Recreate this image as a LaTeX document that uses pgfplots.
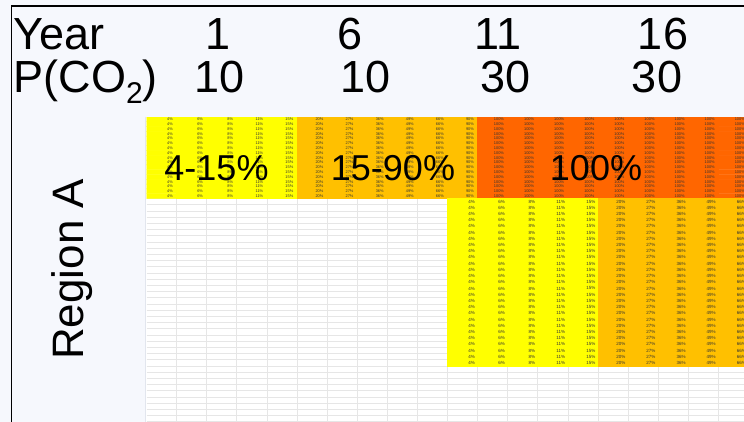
\documentclass[border=0pt]{standalone}
\usepackage{pgfplots}
\pgfplotsset{compat=1.18}
\usepackage{pgfplotstable}
\usepackage{fontspec}
\setmainfont{Liberation Sans}
\definecolor{slidebg}{RGB}{246,248,253}
\definecolor{gridc}{RGB}{230,230,230}
\definecolor{sheetedge}{RGB}{226,230,238}

% Top block: 17 spreadsheet rows x 20 columns (x = column, y = row, v = percentage)
\pgfplotstableread[row sep=\\]{
x y v\\
0 0 4\\ 1 0 6\\ 2 0 8\\ 3 0 11\\ 4 0 15\\ 5 0 20\\ 6 0 27\\ 7 0 36\\ 8 0 49\\ 9 0 66\\ 10 0 90\\ 11 0 100\\ 12 0 100\\ 13 0 100\\ 14 0 100\\ 15 0 100\\ 16 0 100\\ 17 0 100\\ 18 0 100\\ 19 0 100\\
0 1 4\\ 1 1 6\\ 2 1 8\\ 3 1 11\\ 4 1 15\\ 5 1 20\\ 6 1 27\\ 7 1 36\\ 8 1 49\\ 9 1 66\\ 10 1 90\\ 11 1 100\\ 12 1 100\\ 13 1 100\\ 14 1 100\\ 15 1 100\\ 16 1 100\\ 17 1 100\\ 18 1 100\\ 19 1 100\\
0 2 4\\ 1 2 6\\ 2 2 8\\ 3 2 11\\ 4 2 15\\ 5 2 20\\ 6 2 27\\ 7 2 36\\ 8 2 49\\ 9 2 66\\ 10 2 90\\ 11 2 100\\ 12 2 100\\ 13 2 100\\ 14 2 100\\ 15 2 100\\ 16 2 100\\ 17 2 100\\ 18 2 100\\ 19 2 100\\
0 3 4\\ 1 3 6\\ 2 3 8\\ 3 3 11\\ 4 3 15\\ 5 3 20\\ 6 3 27\\ 7 3 36\\ 8 3 49\\ 9 3 66\\ 10 3 90\\ 11 3 100\\ 12 3 100\\ 13 3 100\\ 14 3 100\\ 15 3 100\\ 16 3 100\\ 17 3 100\\ 18 3 100\\ 19 3 100\\
0 4 4\\ 1 4 6\\ 2 4 8\\ 3 4 11\\ 4 4 15\\ 5 4 20\\ 6 4 27\\ 7 4 36\\ 8 4 49\\ 9 4 66\\ 10 4 90\\ 11 4 100\\ 12 4 100\\ 13 4 100\\ 14 4 100\\ 15 4 100\\ 16 4 100\\ 17 4 100\\ 18 4 100\\ 19 4 100\\
0 5 4\\ 1 5 6\\ 2 5 8\\ 3 5 11\\ 4 5 15\\ 5 5 20\\ 6 5 27\\ 7 5 36\\ 8 5 49\\ 9 5 66\\ 10 5 90\\ 11 5 100\\ 12 5 100\\ 13 5 100\\ 14 5 100\\ 15 5 100\\ 16 5 100\\ 17 5 100\\ 18 5 100\\ 19 5 100\\
0 6 4\\ 1 6 6\\ 2 6 8\\ 3 6 11\\ 4 6 15\\ 5 6 20\\ 6 6 27\\ 7 6 36\\ 8 6 49\\ 9 6 66\\ 10 6 90\\ 11 6 100\\ 12 6 100\\ 13 6 100\\ 14 6 100\\ 15 6 100\\ 16 6 100\\ 17 6 100\\ 18 6 100\\ 19 6 100\\
0 7 4\\ 1 7 6\\ 2 7 8\\ 3 7 11\\ 4 7 15\\ 5 7 20\\ 6 7 27\\ 7 7 36\\ 8 7 49\\ 9 7 66\\ 10 7 90\\ 11 7 100\\ 12 7 100\\ 13 7 100\\ 14 7 100\\ 15 7 100\\ 16 7 100\\ 17 7 100\\ 18 7 100\\ 19 7 100\\
0 8 4\\ 1 8 6\\ 2 8 8\\ 3 8 11\\ 4 8 15\\ 5 8 20\\ 6 8 27\\ 7 8 36\\ 8 8 49\\ 9 8 66\\ 10 8 90\\ 11 8 100\\ 12 8 100\\ 13 8 100\\ 14 8 100\\ 15 8 100\\ 16 8 100\\ 17 8 100\\ 18 8 100\\ 19 8 100\\
0 9 4\\ 1 9 6\\ 2 9 8\\ 3 9 11\\ 4 9 15\\ 5 9 20\\ 6 9 27\\ 7 9 36\\ 8 9 49\\ 9 9 66\\ 10 9 90\\ 11 9 100\\ 12 9 100\\ 13 9 100\\ 14 9 100\\ 15 9 100\\ 16 9 100\\ 17 9 100\\ 18 9 100\\ 19 9 100\\
0 10 4\\ 1 10 6\\ 2 10 8\\ 3 10 11\\ 4 10 15\\ 5 10 20\\ 6 10 27\\ 7 10 36\\ 8 10 49\\ 9 10 66\\ 10 10 90\\ 11 10 100\\ 12 10 100\\ 13 10 100\\ 14 10 100\\ 15 10 100\\ 16 10 100\\ 17 10 100\\ 18 10 100\\ 19 10 100\\
0 11 4\\ 1 11 6\\ 2 11 8\\ 3 11 11\\ 4 11 15\\ 5 11 20\\ 6 11 27\\ 7 11 36\\ 8 11 49\\ 9 11 66\\ 10 11 90\\ 11 11 100\\ 12 11 100\\ 13 11 100\\ 14 11 100\\ 15 11 100\\ 16 11 100\\ 17 11 100\\ 18 11 100\\ 19 11 100\\
0 12 4\\ 1 12 6\\ 2 12 8\\ 3 12 11\\ 4 12 15\\ 5 12 20\\ 6 12 27\\ 7 12 36\\ 8 12 49\\ 9 12 66\\ 10 12 90\\ 11 12 100\\ 12 12 100\\ 13 12 100\\ 14 12 100\\ 15 12 100\\ 16 12 100\\ 17 12 100\\ 18 12 100\\ 19 12 100\\
0 13 4\\ 1 13 6\\ 2 13 8\\ 3 13 11\\ 4 13 15\\ 5 13 20\\ 6 13 27\\ 7 13 36\\ 8 13 49\\ 9 13 66\\ 10 13 90\\ 11 13 100\\ 12 13 100\\ 13 13 100\\ 14 13 100\\ 15 13 100\\ 16 13 100\\ 17 13 100\\ 18 13 100\\ 19 13 100\\
0 14 4\\ 1 14 6\\ 2 14 8\\ 3 14 11\\ 4 14 15\\ 5 14 20\\ 6 14 27\\ 7 14 36\\ 8 14 49\\ 9 14 66\\ 10 14 90\\ 11 14 100\\ 12 14 100\\ 13 14 100\\ 14 14 100\\ 15 14 100\\ 16 14 100\\ 17 14 100\\ 18 14 100\\ 19 14 100\\
0 15 4\\ 1 15 6\\ 2 15 8\\ 3 15 11\\ 4 15 15\\ 5 15 20\\ 6 15 27\\ 7 15 36\\ 8 15 49\\ 9 15 66\\ 10 15 90\\ 11 15 100\\ 12 15 100\\ 13 15 100\\ 14 15 100\\ 15 15 100\\ 16 15 100\\ 17 15 100\\ 18 15 100\\ 19 15 100\\
0 16 4\\ 1 16 6\\ 2 16 8\\ 3 16 11\\ 4 16 15\\ 5 16 20\\ 6 16 27\\ 7 16 36\\ 8 16 49\\ 9 16 66\\ 10 16 90\\ 11 16 100\\ 12 16 100\\ 13 16 100\\ 14 16 100\\ 15 16 100\\ 16 16 100\\ 17 16 100\\ 18 16 100\\ 19 16 100\\
}\topblock

% Lower block: 27 spreadsheet rows x 10 columns (columns 10..19)
\pgfplotstableread[row sep=\\]{
x y v\\
10 0 4\\ 11 0 6\\ 12 0 8\\ 13 0 11\\ 14 0 15\\ 15 0 20\\ 16 0 27\\ 17 0 36\\ 18 0 49\\ 19 0 66\\
10 1 4\\ 11 1 6\\ 12 1 8\\ 13 1 11\\ 14 1 15\\ 15 1 20\\ 16 1 27\\ 17 1 36\\ 18 1 49\\ 19 1 66\\
10 2 4\\ 11 2 6\\ 12 2 8\\ 13 2 11\\ 14 2 15\\ 15 2 20\\ 16 2 27\\ 17 2 36\\ 18 2 49\\ 19 2 66\\
10 3 4\\ 11 3 6\\ 12 3 8\\ 13 3 11\\ 14 3 15\\ 15 3 20\\ 16 3 27\\ 17 3 36\\ 18 3 49\\ 19 3 66\\
10 4 4\\ 11 4 6\\ 12 4 8\\ 13 4 11\\ 14 4 15\\ 15 4 20\\ 16 4 27\\ 17 4 36\\ 18 4 49\\ 19 4 66\\
10 5 4\\ 11 5 6\\ 12 5 8\\ 13 5 11\\ 14 5 15\\ 15 5 20\\ 16 5 27\\ 17 5 36\\ 18 5 49\\ 19 5 66\\
10 6 4\\ 11 6 6\\ 12 6 8\\ 13 6 11\\ 14 6 15\\ 15 6 20\\ 16 6 27\\ 17 6 36\\ 18 6 49\\ 19 6 66\\
10 7 4\\ 11 7 6\\ 12 7 8\\ 13 7 11\\ 14 7 15\\ 15 7 20\\ 16 7 27\\ 17 7 36\\ 18 7 49\\ 19 7 66\\
10 8 4\\ 11 8 6\\ 12 8 8\\ 13 8 11\\ 14 8 15\\ 15 8 20\\ 16 8 27\\ 17 8 36\\ 18 8 49\\ 19 8 66\\
10 9 4\\ 11 9 6\\ 12 9 8\\ 13 9 11\\ 14 9 15\\ 15 9 20\\ 16 9 27\\ 17 9 36\\ 18 9 49\\ 19 9 66\\
10 10 4\\ 11 10 6\\ 12 10 8\\ 13 10 11\\ 14 10 15\\ 15 10 20\\ 16 10 27\\ 17 10 36\\ 18 10 49\\ 19 10 66\\
10 11 4\\ 11 11 6\\ 12 11 8\\ 13 11 11\\ 14 11 15\\ 15 11 20\\ 16 11 27\\ 17 11 36\\ 18 11 49\\ 19 11 66\\
10 12 4\\ 11 12 6\\ 12 12 8\\ 13 12 11\\ 14 12 15\\ 15 12 20\\ 16 12 27\\ 17 12 36\\ 18 12 49\\ 19 12 66\\
10 13 4\\ 11 13 6\\ 12 13 8\\ 13 13 11\\ 14 13 15\\ 15 13 20\\ 16 13 27\\ 17 13 36\\ 18 13 49\\ 19 13 66\\
10 14 4\\ 11 14 6\\ 12 14 8\\ 13 14 11\\ 14 14 15\\ 15 14 20\\ 16 14 27\\ 17 14 36\\ 18 14 49\\ 19 14 66\\
10 15 4\\ 11 15 6\\ 12 15 8\\ 13 15 11\\ 14 15 15\\ 15 15 20\\ 16 15 27\\ 17 15 36\\ 18 15 49\\ 19 15 66\\
10 16 4\\ 11 16 6\\ 12 16 8\\ 13 16 11\\ 14 16 15\\ 15 16 20\\ 16 16 27\\ 17 16 36\\ 18 16 49\\ 19 16 66\\
10 17 4\\ 11 17 6\\ 12 17 8\\ 13 17 11\\ 14 17 15\\ 15 17 20\\ 16 17 27\\ 17 17 36\\ 18 17 49\\ 19 17 66\\
10 18 4\\ 11 18 6\\ 12 18 8\\ 13 18 11\\ 14 18 15\\ 15 18 20\\ 16 18 27\\ 17 18 36\\ 18 18 49\\ 19 18 66\\
10 19 4\\ 11 19 6\\ 12 19 8\\ 13 19 11\\ 14 19 15\\ 15 19 20\\ 16 19 27\\ 17 19 36\\ 18 19 49\\ 19 19 66\\
10 20 4\\ 11 20 6\\ 12 20 8\\ 13 20 11\\ 14 20 15\\ 15 20 20\\ 16 20 27\\ 17 20 36\\ 18 20 49\\ 19 20 66\\
10 21 4\\ 11 21 6\\ 12 21 8\\ 13 21 11\\ 14 21 15\\ 15 21 20\\ 16 21 27\\ 17 21 36\\ 18 21 49\\ 19 21 66\\
10 22 4\\ 11 22 6\\ 12 22 8\\ 13 22 11\\ 14 22 15\\ 15 22 20\\ 16 22 27\\ 17 22 36\\ 18 22 49\\ 19 22 66\\
10 23 4\\ 11 23 6\\ 12 23 8\\ 13 23 11\\ 14 23 15\\ 15 23 20\\ 16 23 27\\ 17 23 36\\ 18 23 49\\ 19 23 66\\
10 24 4\\ 11 24 6\\ 12 24 8\\ 13 24 11\\ 14 24 15\\ 15 24 20\\ 16 24 27\\ 17 24 36\\ 18 24 49\\ 19 24 66\\
10 25 4\\ 11 25 6\\ 12 25 8\\ 13 25 11\\ 14 25 15\\ 15 25 20\\ 16 25 27\\ 17 25 36\\ 18 25 49\\ 19 25 66\\
10 26 4\\ 11 26 6\\ 12 26 8\\ 13 26 11\\ 14 26 15\\ 15 26 20\\ 16 26 27\\ 17 26 36\\ 18 26 49\\ 19 26 66\\
}\lowerblock

\pgfplotsset{
  heat/.style={
    scale only axis, hide axis, enlargelimits=false, clip=true,
    xmin=-0.5, xmax=19.35, y dir=reverse, width=597.5pt,
    colormap={xl}{rgb255(0pt)=(255,255,0) rgb255(15pt)=(255,255,0) rgb255(16pt)=(255,192,0) rgb255(90pt)=(255,192,0) rgb255(95pt)=(255,102,0) rgb255(100pt)=(255,102,0)},
    point meta min=0, point meta max=100,
  },
}

\begin{document}
\begin{tikzpicture}
\useasboundingbox (0pt,0pt) rectangle (744pt,-422pt);
\clip (0pt,0pt) rectangle (744pt,-422pt);
\fill[slidebg] (0pt,0pt) rectangle (744pt,-422pt);
% spreadsheet area
\fill[white] (145.5pt,-117pt) rectangle (744pt,-422pt);
\foreach \k in {0,...,36} {
  \draw[gridc, line width=0.7pt] (146.5pt,{-198.5pt-6.2pt*\k}) -- (744pt,{-198.5pt-6.2pt*\k});
}
\foreach \k in {1,...,19} {
  \draw[gridc, line width=0.7pt] ({146.5pt+30.1pt*\k},-198.5pt) -- ({146.5pt+30.1pt*\k},-422pt);
}
\draw[sheetedge, line width=1pt] (145.5pt,-117pt) -- (145.5pt,-422pt);

% top block
\begin{axis}[heat, at={(146.5pt,-117pt)}, anchor=north west,
  height=81.5pt, ymin=-0.5, ymax=16.5]
\addplot[matrix plot*, mesh/cols=20, point meta=explicit,
  draw=mapped color, line width=0.4pt,
  nodes near coords={\pgfmathprintnumber[fixed,precision=0,assume math mode=true]{\pgfplotspointmeta}\%},
  nodes near coords style={anchor=east, inner sep=0pt, xshift=11.5pt,
    font=\fontsize{3.9}{4}\selectfont, text=black!80}]
  table[x=x, y=y, meta=v]{\topblock};
\end{axis}

% lower block
\begin{axis}[heat, at={(146.5pt,-198.5pt)}, anchor=north west,
  height=167.5pt, ymin=-0.5, ymax=26.5]
\addplot[matrix plot*, mesh/cols=10, point meta=explicit,
  draw=mapped color, line width=0.4pt,
  nodes near coords={\pgfmathprintnumber[fixed,precision=0,assume math mode=true]{\pgfplotspointmeta}\%},
  nodes near coords style={anchor=east, inner sep=0pt, xshift=12.5pt,
    font=\fontsize{4.5}{5}\selectfont, text=black!80}]
  table[x=x, y=y, meta=v]{\lowerblock};
\end{axis}

% block labels
\begin{scope}[every node/.style={inner sep=0pt, font=\fontsize{36}{40}\selectfont, anchor=base}]
\node at (216.5pt,-181pt) {4-15\%};
\node at (393pt,-181pt) {15-90\%};
\node at (596pt,-181pt) {100\%};
\end{scope}

% header
\begin{scope}[every node/.style={inner sep=0pt, font=\fontsize{45}{54}\selectfont, anchor=base}]
\node[anchor=base west] at (13.5pt,-50pt) {Year};
\node at (218pt,-50pt) {1};
\node at (350pt,-50pt) {6};
\node at (498pt,-50pt) {11};
\node at (663pt,-50pt) {16};
\node[anchor=base west] at (13.5pt,-93pt) {P(CO\raisebox{-11pt}{\fontsize{30}{30}\selectfont 2})};
\node at (220pt,-93pt) {10};
\node at (366pt,-93pt) {10};
\node at (506pt,-93pt) {30};
\node at (657pt,-93pt) {30};
\end{scope}

\node[rotate=90, anchor=base west, inner sep=0pt, font=\fontsize{44}{50}\selectfont] at (83pt,-360pt) {Region A};

% slide border
\draw[black, line width=1.6pt] (11.5pt,-422pt) -- (11.5pt,-6pt) -- (744pt,-6pt);
\end{tikzpicture}
\end{document}
